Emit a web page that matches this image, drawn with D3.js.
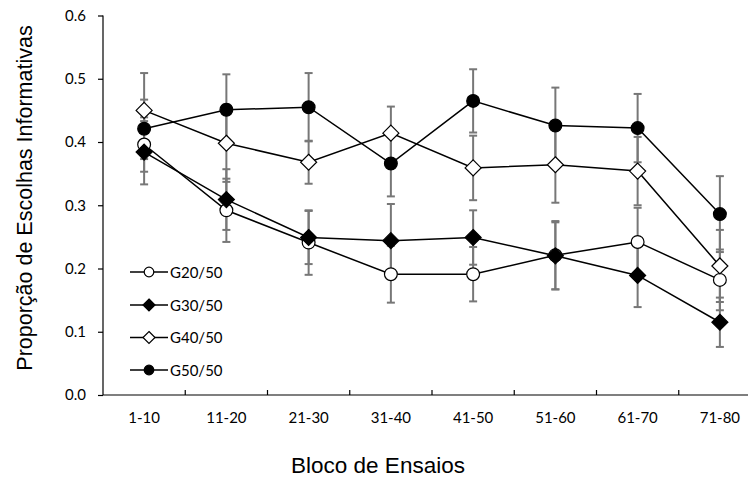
<!DOCTYPE html>
<html>
<head>
<meta charset="utf-8">
<script src="https://cdn.jsdelivr.net/npm/d3@7"></script>
<style>
  html, body { margin: 0; padding: 0; background: #fff; }
  svg { display: block; }
</style>
</head>
<body>
<svg id="chart" width="748" height="478"></svg>
<script>
const categories = ["1-10", "11-20", "21-30", "31-40", "41-50", "51-60", "61-70", "71-80"];
const yTicks = [0, 0.1, 0.2, 0.3, 0.4, 0.5, 0.6];

const seriesNames = ["G20/50", "G30/50", "G40/50", "G50/50"];
const g20 = [0.396, 0.292, 0.241, 0.191, 0.191, 0.221, 0.242, 0.182];
const g30 = [0.384, 0.309, 0.249, 0.244, 0.249, 0.220, 0.189, 0.115];
const g40 = [0.450, 0.398, 0.368, 0.414, 0.359, 0.364, 0.354, 0.204];
const g50 = [0.421, 0.451, 0.455, 0.366, 0.465, 0.426, 0.422, 0.286];

const g20Err = [0.043, 0.050, 0.051, 0.045, 0.043, 0.054, 0.054, 0.048];
const g30Err = [0.011, 0.048, 0.042, 0.058, 0.043, 0.053, 0.050, 0.039];
const g40Err = [0.017, 0.061, 0.034, 0.042, 0.051, 0.060, 0.054, 0.057];
const g50Err = [0.088, 0.056, 0.054, 0.052, 0.050, 0.060, 0.054, 0.060];

const seriesValues = [g20, g30, g40, g50];
const seriesErrors = [g20Err, g30Err, g40Err, g50Err];
const seriesShape = ["circle", "diamond", "diamond", "circle"];
const seriesFill = ["#fff", "#000", "#fff", "#000"];

(function () {
const svg = d3.select("#chart");
const mLeft = 103, mRight = 761, mTop = 15.5, mBottom = 395;

const x = d3.scaleBand().domain(categories).range([mLeft, mRight]).paddingInner(0).paddingOuter(0);
const y = d3.scaleLinear().domain([0, 0.6]).range([mBottom, mTop]);
const cx = c => x(c) + x.bandwidth() / 2;

const tickFont = "Lato, 'Open Sans', sans-serif";

// Y axis
const yAxis = svg.append("g").attr("transform", `translate(${mLeft},0)`)
  .call(d3.axisLeft(y).tickValues(yTicks).tickFormat(d3.format(".1f")).tickSize(5).tickPadding(12));
yAxis.select(".domain").attr("stroke", "#000").attr("stroke-width", 1.2).attr("d", `M0,${mTop}V${mBottom}`);
yAxis.selectAll(".tick line").attr("stroke", "#000").attr("stroke-width", 1.2);
yAxis.selectAll(".tick text").attr("font-family", tickFont).attr("font-size", 15).attr("fill", "#000");

// X axis (ticks at category boundaries, pointing inward)
const boundaries = categories.slice(1);
const xAxis = svg.append("g").attr("transform", `translate(0,${mBottom})`);
xAxis.append("line").attr("x1", mLeft).attr("x2", mRight).attr("y1", 0).attr("y2", 0)
  .attr("stroke", "#000").attr("stroke-width", 1.2);
xAxis.selectAll("line.tk").data(boundaries).enter().append("line").attr("class", "tk")
  .attr("x1", d => x(d)).attr("x2", d => x(d)).attr("y1", 0).attr("y2", -5)
  .attr("stroke", "#000").attr("stroke-width", 1.2);
xAxis.selectAll("text").data(categories).enter().append("text")
  .attr("x", d => cx(d)).attr("y", 28)
  .attr("text-anchor", "middle")
  .attr("font-family", tickFont).attr("font-size", 15).attr("fill", "#000")
  .text(d => d);

// Axis titles
svg.append("text").attr("x", 378).attr("y", 473).attr("text-anchor", "middle")
  .attr("font-family", "'Liberation Sans', Arial, sans-serif").attr("font-size", 22.5).attr("fill", "#000")
  .text("Bloco de Ensaios");
svg.append("text").attr("transform", "translate(32,198) rotate(-90)").attr("text-anchor", "middle")
  .attr("font-family", "'Liberation Sans', Arial, sans-serif").attr("font-size", 21.5).attr("fill", "#000")
  .text("Proporção de Escolhas Informativas");

// Error bars
const errG = svg.append("g");
seriesValues.forEach((vals, si) => {
  const errs = seriesErrors[si];
  vals.forEach((v, i) => {
    const px = cx(categories[i]);
    const y1 = y(v + errs[i]), y2 = y(v - errs[i]);
    errG.append("line").attr("x1", px).attr("x2", px).attr("y1", y1).attr("y2", y2)
      .attr("stroke", "#777").attr("stroke-width", 2);
    [y1, y2].forEach(yy => errG.append("line").attr("x1", px - 4).attr("x2", px + 4).attr("y1", yy).attr("y2", yy)
      .attr("stroke", "#777").attr("stroke-width", 2));
  });
});

// Lines
const line = d3.line().x((d, i) => cx(categories[i])).y(d => y(d));
seriesValues.forEach(vals => {
  svg.append("path").datum(vals).attr("d", line).attr("fill", "none")
    .attr("stroke", "#000").attr("stroke-width", 1.5);
});

function drawMarker(g, shape, fill, px, py, size) {
  if (shape === "circle") {
    g.append("circle").attr("cx", px).attr("cy", py).attr("r", size)
      .attr("fill", fill).attr("stroke", "#000").attr("stroke-width", 1.2);
  } else {
    const s = size * 1.25;
    g.append("path").attr("d", `M${px},${py - s}L${px + s},${py}L${px},${py + s}L${px - s},${py}Z`)
      .attr("fill", fill).attr("stroke", "#000").attr("stroke-width", 1.2);
  }
}

// Markers
const mG = svg.append("g");
seriesValues.forEach((vals, si) => {
  vals.forEach((v, i) => drawMarker(mG, seriesShape[si], seriesFill[si], cx(categories[i]), y(v), 6.4));
});

// Legend
const legendRows = [272, 305, 337.5, 370];
const lg = svg.append("g");
seriesNames.forEach((name, si) => {
  const ly = legendRows[si];
  lg.append("line").attr("x1", 130).attr("x2", 168).attr("y1", ly).attr("y2", ly)
    .attr("stroke", "#000").attr("stroke-width", 1.5);
  drawMarker(lg, seriesShape[si], seriesFill[si], 149, ly, 4.8);
  lg.append("text").attr("x", 170).attr("y", ly + 5.5)
    .attr("font-family", tickFont).attr("font-size", 15).attr("fill", "#000").text(name);
});
})();
</script>
</body>
</html>
